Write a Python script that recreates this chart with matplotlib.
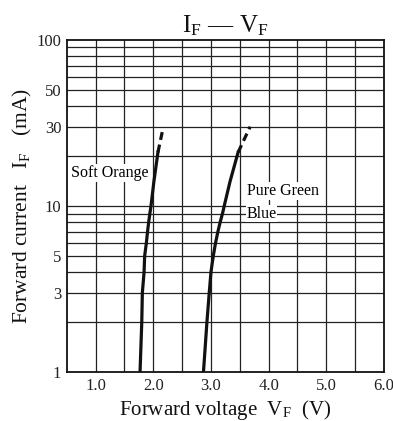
import matplotlib.pyplot as plt
import numpy as np

plt.rcParams['font.family'] = ['Liberation Serif', 'DejaVu Serif']
plt.rcParams['mathtext.fontset'] = 'stix'

# forward current (mA) and forward voltage (V)
orange_i = [1, 2, 3, 4, 5, 6, 7, 8, 9, 10, 14, 21]
orange_v = [1.77, 1.80, 1.81, 1.84, 1.85, 1.88, 1.90, 1.92, 1.94, 1.96, 2.01, 2.08]
orange_i_dash = [21, 29.5]
orange_v_dash = [2.08, 2.17]

green_i = [1, 2, 3, 4, 5, 6, 7, 8, 9, 10, 14, 21]
green_v = [2.87, 2.93, 2.97, 3.00, 3.04, 3.08, 3.12, 3.16, 3.20, 3.23, 3.33, 3.47]
green_i_dash = [21, 30]
green_v_dash = [3.47, 3.68]

x_ticks = [1.0, 2.0, 3.0, 4.0, 5.0, 6.0]
y_ticks = [1, 3, 5, 10, 30, 50, 100]

fig = plt.figure(figsize=(3.93, 4.21), dpi=100)
ax = fig.add_axes([0.170, 0.1164, 0.807, 0.789])

ax.set_yscale('log')
ax.set_xlim(0.5, 6.0)
ax.set_ylim(1, 100)

# grid
for v in np.arange(1.0, 6.0, 0.5):
    ax.axvline(v, color='#222222', lw=0.9, zorder=1)
for dec in [1, 10]:
    for m in range(2, 10):
        ax.axhline(dec * m, color='#222222', lw=0.9, zorder=1)
ax.axhline(10, color='#222222', lw=0.9, zorder=1)

ax.plot(orange_v, orange_i, color='#111111', lw=2.3, zorder=3, solid_joinstyle='round')
ax.plot(orange_v_dash, orange_i_dash, color='#111111', lw=2.3, ls=(0, (2.5, 1.5)), zorder=3)
ax.plot(green_v, green_i, color='#111111', lw=2.3, zorder=3, solid_joinstyle='round')
ax.plot(green_v_dash, green_i_dash, color='#111111', lw=2.3, ls=(0, (2.5, 1.5)), zorder=3)

bbox = dict(facecolor='white', edgecolor='none', pad=0.5)
ax.text(0.58, 15.8, 'Soft Orange', fontsize=11.5, va='center', ha='left', bbox=bbox, zorder=4)
ax.text(3.62, 12.3, 'Pure Green', fontsize=11.5, va='center', ha='left', bbox=bbox, zorder=4)
ax.text(3.62, 9.0, 'Blue', fontsize=11.5, va='center', ha='left', bbox=bbox, zorder=4)

ax.set_xticks(x_ticks)
ax.set_xticklabels(['%.1f' % v for v in x_ticks])
ax.set_yticks(y_ticks)
ax.set_yticklabels([str(v) for v in y_ticks])
ax.yaxis.set_minor_locator(plt.NullLocator())
ax.tick_params(length=0, labelsize=12, colors='#222222', pad=4)

for s in ax.spines.values():
    s.set_linewidth(1.3)
    s.set_color('#111111')

ax.set_title(r'I$_\mathregular{F}$ — V$_\mathregular{F}$', fontsize=18, pad=5, color='#111111')
ax.set_xlabel(r'Forward voltage  V$_\mathregular{F}$  (V)', fontsize=15, labelpad=3, color='#111111')
ax.set_ylabel(r'Forward current   I$_\mathregular{F}$   (mA)', fontsize=15.5, labelpad=2, color='#111111')

fig.savefig('out.png', dpi=100)
